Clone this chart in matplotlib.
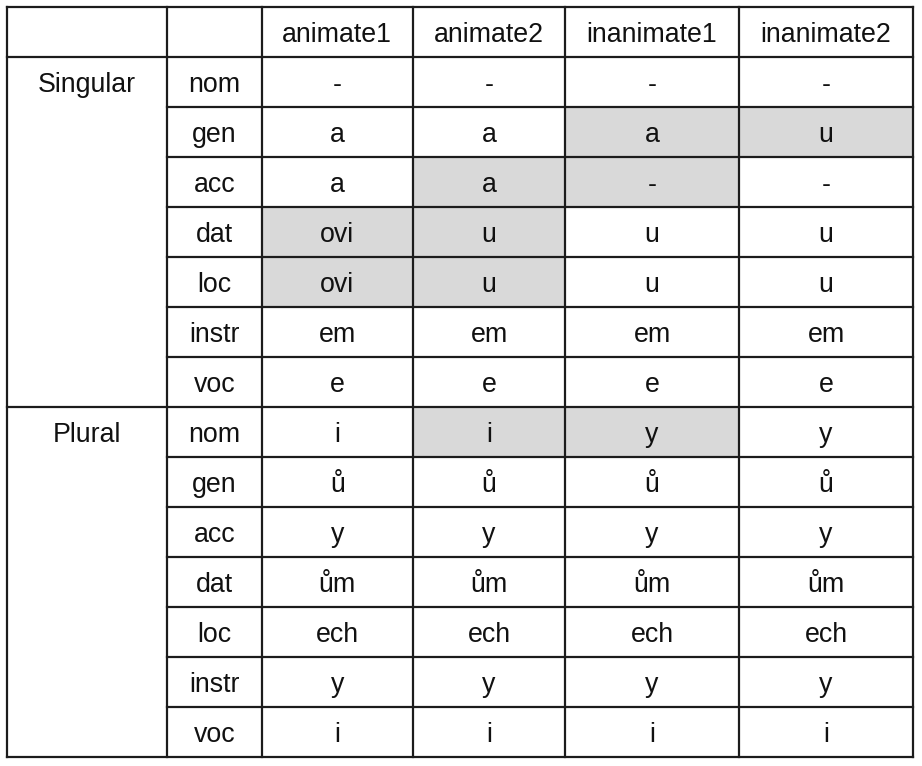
import matplotlib
matplotlib.use("Agg")
import matplotlib.pyplot as plt
from matplotlib.patches import Rectangle

# table content
columns = ["animate1", "animate2", "inanimate1", "inanimate2"]
cases = ["nom", "gen", "acc", "dat", "loc", "instr", "voc"]
numbers = ["Singular", "Plural"]

sg_animate1 = ["-", "a", "a", "ovi", "ovi", "em", "e"]
sg_animate2 = ["-", "a", "a", "u", "u", "em", "e"]
sg_inanimate1 = ["-", "a", "-", "u", "u", "em", "e"]
sg_inanimate2 = ["-", "u", "-", "u", "u", "em", "e"]

pl_animate1 = ["i", "ů", "y", "ům", "ech", "y", "i"]
pl_animate2 = ["i", "ů", "y", "ům", "ech", "y", "i"]
pl_inanimate1 = ["y", "ů", "y", "ům", "ech", "y", "i"]
pl_inanimate2 = ["y", "ů", "y", "ům", "ech", "y", "i"]

forms = {
    "Singular": [sg_animate1, sg_animate2, sg_inanimate1, sg_inanimate2],
    "Plural": [pl_animate1, pl_animate2, pl_inanimate1, pl_inanimate2],
}

# shaded cells: (number, case, column)
shaded = [
    ("Singular", "gen", "inanimate1"), ("Singular", "gen", "inanimate2"),
    ("Singular", "acc", "animate2"), ("Singular", "acc", "inanimate1"),
    ("Singular", "dat", "animate1"), ("Singular", "dat", "animate2"),
    ("Singular", "loc", "animate1"), ("Singular", "loc", "animate2"),
    ("Plural", "nom", "animate2"), ("Plural", "nom", "inanimate1"),
]

# layout (pixels)
W, H = 922, 766
left, top = 7, 6.7
row_h = 50
col_w = [160, 94.5, 151.5, 152, 174, 174]
text_dy = 3
lw = 1.6
line_c = "#1c1c1c"
shade_c = "#d9d9d9"
fs = 19.3
plt.rcParams["font.family"] = ["Liberation Sans", "DejaVu Sans"]

fig = plt.figure(figsize=(W / 100, H / 100), dpi=100)
ax = fig.add_axes([0, 0, 1, 1])
ax.set_xlim(0, W)
ax.set_ylim(H, 0)
ax.axis("off")

xs = [left]
for w in col_w:
    xs.append(xs[-1] + w)
n_rows = 1 + len(numbers) * len(cases)
ys = [top + i * row_h for i in range(n_rows + 1)]


def row_of(num, case):
    return 1 + numbers.index(num) * len(cases) + cases.index(case)


def cell_text(c, r, s):
    ax.text((xs[c] + xs[c + 1]) / 2, ys[r] + row_h / 2 + text_dy, s,
            ha="center", va="center", fontsize=fs, color="#111111", zorder=3)


# shading
for num, case, col in shaded:
    r = row_of(num, case)
    c = 2 + columns.index(col)
    ax.add_patch(Rectangle((xs[c], ys[r]), xs[c + 1] - xs[c], row_h,
                           facecolor=shade_c, edgecolor="none", zorder=1))

# header
for j, col in enumerate(columns):
    cell_text(2 + j, 0, col)

# body
for g, num in enumerate(numbers):
    r0 = 1 + g * len(cases)
    cell_text(0, r0, num)
    for i, case in enumerate(cases):
        r = r0 + i
        cell_text(1, r, case)
        for j, vals in enumerate(forms[num]):
            cell_text(2 + j, r, vals[i])

# grid lines
group_rows = [1 + g * len(cases) for g in range(len(numbers))] + [n_rows]
for r, y in enumerate(ys):
    x0 = xs[0] if (r == 0 or r in group_rows) else xs[1]
    ax.plot([x0, xs[-1]], [y, y], color=line_c, lw=lw, zorder=4,
            solid_capstyle="projecting")
for x in xs:
    ax.plot([x, x], [ys[0], ys[-1]], color=line_c, lw=lw, zorder=4,
            solid_capstyle="projecting")

fig.savefig("out.png", dpi=100)
